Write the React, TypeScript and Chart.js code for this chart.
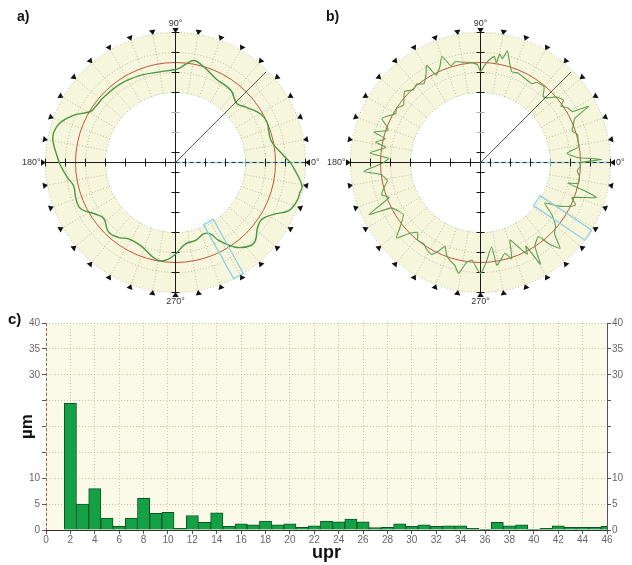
import React, { useEffect, useRef } from 'react';
import { Chart, registerables } from 'chart.js';

Chart.register(...registerables);

const FONT = "'Liberation Sans', Arial, Helvetica, sans-serif";
Chart.defaults.font.family = FONT;

// ---------- polar panels a) and b) ----------
const angleLabels = ['0°', '90°', '180°', '270°'];
const axisTickRadii = [10, 30, 50, 70, 90, 110, 130];
const ringRadii = [70, 90, 110, 130];
const innerRadius = 70;
const outerRadius = 130;
const referenceRadius = 100;

// panel a) measured profile: angle (deg) and radius (plot units)
const profileAAngles = [0, 4.6, 13, 23.7, 29.7, 38.2, 43.9, 52.5, 64.3, 73.2, 79.6, 84, 87, 90, 100, 112, 125, 138, 145, 149, 155, 161, 166, 170, 177, 181.5, 188, 193, 200, 206, 213, 218, 226, 233, 238.5, 247, 258, 263, 269, 277, 284.4, 291.6, 296, 299, 305.3, 312, 315.7, 321, 325.7, 328.7, 332.8, 337, 342.7, 346.7, 349, 352.5];
const profileARadii = [115, 107, 98, 100, 98, 89.5, 85, 91, 93, 99.5, 103.7, 99, 95, 93, 92, 94, 96, 97, 97.5, 99, 112, 122, 125.5, 124.5, 118.5, 115, 109, 104.5, 106, 105.5, 95, 91, 96.5, 94, 89.5, 90, 98.4, 99, 93, 82, 80.5, 76.7, 79.4, 89, 103.8, 112, 111.7, 105.2, 103, 105.3, 112.4, 123, 127.5, 128, 129, 125];

// panel b) measured profile
const profileBAngles = [0, 1.5, 3, 6, 9, 13, 16, 19, 22, 25, 27.5, 29, 32, 35, 37, 41, 44, 46.5, 50, 55, 57, 62, 67, 71, 74, 76.5, 78, 80, 81, 82.6, 85.7, 88, 90, 91.5, 93, 97, 100.5, 104, 107, 110, 113, 117, 119, 122, 125.7, 129, 133, 136.8, 140, 143.3, 147, 150, 153, 156, 159, 161, 164, 166, 169, 171, 175, 177.5, 180, 182, 184.4, 187, 191, 194.8, 198, 201, 205, 207, 210, 214, 218, 222, 225, 228, 231, 235, 238, 242, 245, 247, 250, 253, 256, 258.8, 262, 265, 268, 270, 273, 277.5, 279, 282, 285, 288, 290.8, 294, 297, 298.5, 300.5, 303, 308, 310, 312.8, 316, 320, 324, 327.7, 331, 334, 336, 339, 343.2, 345, 346.7, 348, 352, 355, 358];
const profileBRadii = [99, 121, 97, 87, 99, 100, 101, 97, 100, 104, 122, 105, 103, 98, 104, 100, 93, 91, 99, 98, 94, 95, 97, 96, 105, 115, 106, 110, 101, 107, 102, 96, 91, 97, 99, 101, 102, 104, 101, 113, 104, 98, 111, 103, 97, 101, 99, 104, 100, 96, 100, 98, 103, 108, 100, 98, 111, 98, 107, 96, 111, 92, 97, 105, 117, 100, 95, 100, 104, 98, 123, 100, 96, 93, 101, 113, 100, 94, 100, 99, 102, 104, 97, 91, 99, 103, 106, 113, 101, 98, 106, 111, 101, 85, 104, 99, 94, 101, 83, 92, 103, 95, 118, 100, 94, 106, 117, 103, 98, 88, 76, 90, 100, 104, 98, 121, 106, 90, 100, 100, 97, 100];

// ---------- panel c) harmonic spectrum ----------
const harmonics = [1, 2, 3, 4, 5, 6, 7, 8, 9, 10, 11, 12, 13, 14, 15, 16, 17, 18, 19, 20, 21, 22, 23, 24, 25, 26, 27, 28, 29, 30, 31, 32, 33, 34, 35, 36, 37, 38, 39, 40, 41, 42, 43, 44, 45, 46];
const amplitudes = [0, 24.5, 5.0, 8.0, 2.3, 0.7, 2.3, 6.1, 3.2, 3.4, 0.3, 2.8, 1.5, 3.3, 0.7, 1.2, 1.0, 1.7, 1.0, 1.2, 0.5, 0.8, 1.7, 1.6, 2.1, 1.6, 0.45, 0.5, 1.2, 0.7, 1.0, 0.7, 0.8, 0.8, 0.3, 0.15, 1.5, 0.8, 1.0, 0.15, 0.3, 0.8, 0.5, 0.5, 0.5, 0.7];
const hiddenYLabels = [15, 20, 25];

const RAD = Math.PI / 180;

type PolarProps = {
  left: number; width: number; height: number; cx: number; cy: number;
  angles: number[]; radii: number[]; color: string; lineWidth: number; tension: number;
  rectAngle: number; rectHalf: number; panel: string; panelX: number;
};

function geo(chart: any) {
  const xs = chart.scales.x;
  const ys = chart.scales.y;
  const cx = xs.getPixelForValue(0);
  const cy = ys.getPixelForValue(0);
  const k = xs.getPixelForValue(1) - cx;
  const at = (r: number, a: number): [number, number] => [cx + r * k * Math.cos(a * RAD), cy - r * k * Math.sin(a * RAD)];
  return { cx, cy, k, at };
}

function seg(ctx: CanvasRenderingContext2D, a: [number, number], b: [number, number]) {
  ctx.beginPath();
  ctx.moveTo(a[0], a[1]);
  ctx.lineTo(b[0], b[1]);
  ctx.stroke();
}

function PolarPanel(p: PolarProps) {
  const ref = useRef<HTMLCanvasElement | null>(null);
  useEffect(() => {
    const canvas = ref.current;
    if (!canvas) return;
    const pts = p.angles.map((a, i) => ({ x: p.radii[i] * Math.cos(a * RAD), y: p.radii[i] * Math.sin(a * RAD) }));
    pts.push({ ...pts[0] });

    const deco = {
      id: 'polarDeco',
      beforeDatasetsDraw(chart: any) {
        const ctx: CanvasRenderingContext2D = chart.ctx;
        const g = geo(chart);
        ctx.save();
        ctx.beginPath();
        ctx.arc(g.cx, g.cy, outerRadius * g.k, 0, 2 * Math.PI);
        ctx.arc(g.cx, g.cy, innerRadius * g.k, 0, 2 * Math.PI, true);
        ctx.fillStyle = '#f6f6dc';
        ctx.fill();
        ctx.setLineDash([1, 2]);
        ctx.lineWidth = 0.8;
        ctx.strokeStyle = 'rgba(140,140,110,0.7)';
        for (const r of ringRadii) {
          ctx.beginPath();
          ctx.arc(g.cx, g.cy, r * g.k, 0, 2 * Math.PI);
          ctx.stroke();
        }
        for (let a = 0; a < 360; a += 10) {
          if (a % 90 === 0) continue;
          seg(ctx, g.at(innerRadius, a), g.at(outerRadius, a));
        }
        ctx.setLineDash([]);
        // reference (least-squares) circle
        ctx.strokeStyle = '#c0563f';
        ctx.lineWidth = 1;
        ctx.beginPath();
        ctx.arc(g.cx, g.cy, referenceRadius * g.k, 0, 2 * Math.PI);
        ctx.stroke();
        // axes
        ctx.strokeStyle = '#1a1a1a';
        ctx.lineWidth = 1;
        seg(ctx, g.at(outerRadius, 180), [g.cx, g.cy]);
        seg(ctx, g.at(outerRadius, 90), g.at(outerRadius, 270));
        ctx.strokeStyle = '#9fd6df';
        ctx.lineWidth = 1.5;
        seg(ctx, [g.cx, g.cy], g.at(outerRadius, 0));
        ctx.setLineDash([4, 3]);
        ctx.strokeStyle = '#24383c';
        ctx.lineWidth = 1;
        seg(ctx, [g.cx, g.cy], g.at(outerRadius, 0));
        ctx.setLineDash([]);
        for (const r of axisTickRadii) {
          for (const a of [90, 270]) {
            const [x, y] = g.at(r, a);
            ctx.strokeStyle = a === 90 && (r === 30 || r === 50) ? '#b0b0b0' : '#1a1a1a';
            seg(ctx, [x - 4, y], [x + 4, y]);
          }
          for (const a of [0, 180]) {
            const [x, y] = g.at(r, a);
            ctx.strokeStyle = a === 0 && r === 70 ? '#8aa' : '#1a1a1a';
            seg(ctx, [x, y - 4], [x, y + 4]);
          }
        }
        ctx.restore();
      },
      afterDatasetsDraw(chart: any) {
        const ctx: CanvasRenderingContext2D = chart.ctx;
        const g = geo(chart);
        ctx.save();
        ctx.strokeStyle = '#333';
        ctx.lineWidth = 0.8;
        seg(ctx, [g.cx, g.cy], g.at(128, 45));
        // blue selection window
        const ra = p.rectAngle * RAD;
        const c = (u: number, v: number): [number, number] => {
          const x = u * Math.cos(ra) - v * Math.sin(ra);
          const y = u * Math.sin(ra) + v * Math.cos(ra);
          return [g.cx + x * g.k, g.cy - y * g.k];
        };
        const corners = [c(68, -p.rectHalf), c(68, p.rectHalf), c(130, p.rectHalf), c(130, -p.rectHalf)];
        ctx.strokeStyle = '#8fd0e6';
        ctx.lineWidth = 1.3;
        ctx.beginPath();
        corners.forEach((q, i) => (i === 0 ? ctx.moveTo(q[0], q[1]) : ctx.lineTo(q[0], q[1])));
        ctx.closePath();
        ctx.stroke();
        // triangle markers every 10°
        ctx.fillStyle = '#111';
        for (let a = 0; a < 360; a += 10) {
          const tip = g.at(129.5, a);
          const base = g.at(134.5, a);
          const px = Math.sin(a * RAD) * 3.2;
          const py = Math.cos(a * RAD) * 3.2;
          ctx.beginPath();
          ctx.moveTo(tip[0], tip[1]);
          ctx.lineTo(base[0] + px, base[1] + py);
          ctx.lineTo(base[0] - px, base[1] - py);
          ctx.closePath();
          ctx.fill();
        }
        // angle labels
        ctx.font = `9px ${FONT}`;
        ctx.fillStyle = '#333';
        ctx.textAlign = 'left';
        ctx.textBaseline = 'middle';
        ctx.fillText(angleLabels[0], g.cx + 135.5 * g.k, g.cy);
        ctx.textAlign = 'center';
        ctx.textBaseline = 'bottom';
        ctx.fillText(angleLabels[1], g.cx, g.cy - 134.5 * g.k);
        ctx.textAlign = 'right';
        ctx.textBaseline = 'middle';
        ctx.fillText(angleLabels[2], g.cx - 135 * g.k, g.cy);
        ctx.textAlign = 'center';
        ctx.textBaseline = 'top';
        ctx.fillText(angleLabels[3], g.cx, g.cy + 134.5 * g.k);
        // panel label
        ctx.font = `bold 14px ${FONT}`;
        ctx.fillStyle = '#111';
        ctx.textAlign = 'left';
        ctx.textBaseline = 'alphabetic';
        ctx.fillText(p.panel, p.panelX, 21);
        ctx.restore();
      },
    };

    const chart = new Chart(canvas, {
      type: 'scatter',
      data: {
        datasets: [{
          data: pts, showLine: true, borderColor: p.color, borderWidth: p.lineWidth,
          pointRadius: 0, pointHoverRadius: 0, tension: p.tension, fill: false,
        }],
      },
      options: {
        animation: false, responsive: false, events: [],
        layout: { padding: 0 },
        plugins: { legend: { display: false }, tooltip: { enabled: false } },
        scales: {
          x: { type: 'linear', display: false, min: -p.cx, max: p.width - p.cx },
          y: { type: 'linear', display: false, min: -(p.height - p.cy), max: p.cy },
        },
      },
      plugins: [deco],
    } as any);
    return () => chart.destroy();
  }, []);
  return <canvas ref={ref} width={p.width} height={p.height} style={{ position: 'absolute', left: p.left, top: 0, width: p.width, height: p.height }} />;
}

function SpectrumPanel() {
  const ref = useRef<HTMLCanvasElement | null>(null);
  useEffect(() => {
    const canvas = ref.current;
    if (!canvas) return;
    const deco = {
      id: 'spectrumDeco',
      beforeDraw(chart: any) {
        const { ctx, chartArea } = chart;
        ctx.save();
        ctx.fillStyle = '#fbfae8';
        ctx.fillRect(chartArea.left, chartArea.top, chartArea.right - chartArea.left, chartArea.bottom - chartArea.top);
        ctx.restore();
      },
      afterDraw(chart: any) {
        const { ctx, chartArea } = chart;
        ctx.save();
        // dashed left axis line
        ctx.strokeStyle = '#a86060';
        ctx.lineWidth = 1;
        ctx.setLineDash([3, 2]);
        ctx.beginPath();
        ctx.moveTo(Math.round(chartArea.left) + 0.5, chartArea.top);
        ctx.lineTo(Math.round(chartArea.left) + 0.5, chartArea.bottom);
        ctx.stroke();
        ctx.setLineDash([]);
        ctx.font = `bold 15px ${FONT}`;
        ctx.fillStyle = '#111';
        ctx.textAlign = 'left';
        ctx.textBaseline = 'alphabetic';
        ctx.fillText('c)', 8, 19);
        ctx.restore();
      },
    };
    const gridColor = 'rgba(170,160,120,0.6)';
    const tickFont = { size: 10, family: FONT };
    const yTickCb = (v: any) => (hiddenYLabels.includes(Number(v)) ? '' : String(v));
    const chart = new Chart(canvas, {
      type: 'bar',
      data: {
        datasets: [{
          data: harmonics.map((h, i) => ({ x: h, y: amplitudes[i] })),
          backgroundColor: '#14a045', borderColor: '#0b5524', borderWidth: 1,
          barPercentage: 1, categoryPercentage: 1,
        }],
      },
      options: {
        animation: false, responsive: false, events: [],
        layout: { padding: { top: 18, left: 0, right: 0, bottom: 0 } },
        plugins: { legend: { display: false }, tooltip: { enabled: false } },
        scales: {
          x: {
            type: 'linear', min: 0, max: 46, offset: false,
            ticks: { stepSize: 2, autoSkip: false, maxRotation: 0, color: '#666', font: tickFont, padding: 0 },
            grid: { color: gridColor, tickColor: '#555', tickLength: 4, offset: false },
            border: { color: '#333', dash: [1, 2] },
            title: { display: true, text: 'upr', color: '#111', font: { size: 18, weight: 'bold', family: FONT }, padding: { top: 0, bottom: 1 } },
            afterFit: (s: any) => { s.height = 35; },
          },
          y: {
            position: 'left', min: 0, max: 40,
            ticks: { stepSize: 5, color: '#666', font: tickFont, padding: 2, callback: yTickCb },
            grid: { color: gridColor, tickColor: '#555', tickLength: 4 },
            border: { display: false, dash: [1, 2] },
            title: { display: true, text: 'µm', color: '#111', font: { size: 17, weight: 'bold', family: FONT }, padding: { top: 17, bottom: 0 } },
            afterFit: (s: any) => { s.width = 46; },
          },
          y2: {
            position: 'right', min: 0, max: 40,
            ticks: { stepSize: 5, color: '#666', font: tickFont, padding: 1, callback: yTickCb },
            grid: { drawOnChartArea: false, tickColor: '#555', tickLength: 4 },
            border: { color: '#555' },
            afterFit: (s: any) => { s.width = 25; },
          },
        },
      },
      plugins: [deco],
    } as any);
    return () => chart.destroy();
  }, []);
  return <canvas ref={ref} width={632} height={260} style={{ position: 'absolute', left: 0, top: 305, width: 632, height: 260 }} />;
}

export default function App() {
  return (
    <div style={{ position: 'absolute', left: 0, top: 0, width: 632, height: 565, background: '#fff', overflow: 'hidden' }}>
      <PolarPanel left={0} width={322} height={305} cx={175.5} cy={162.5}
        angles={profileAAngles} radii={profileARadii} color="#4a9640" lineWidth={1.4} tension={0.4}
        rectAngle={-61} rectHalf={5.5} panel="a)" panelX={17} />
      <PolarPanel left={316} width={316} height={305} cx={164.5} cy={162.5}
        angles={profileBAngles} radii={profileBRadii} color="#5e9e4f" lineWidth={1.1} tension={0.15}
        rectAngle={-34} rectHalf={6} panel="b)" panelX={10} />
      <SpectrumPanel />
    </div>
  );
}
